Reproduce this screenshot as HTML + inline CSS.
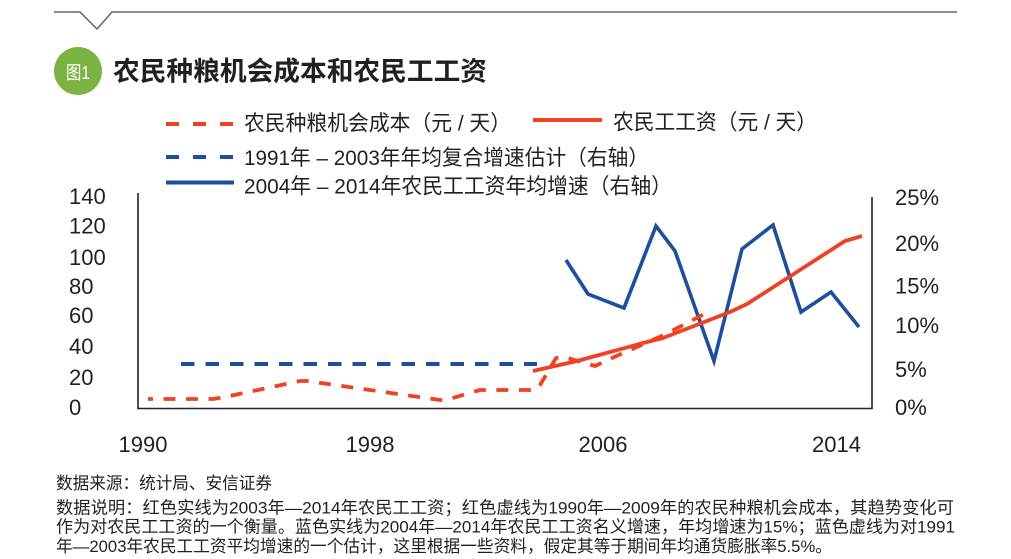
<!DOCTYPE html>
<html><head><meta charset="utf-8"><style>
html,body{margin:0;padding:0;background:#fff;}
svg{display:block;}
text{font-family:"Liberation Sans","Noto Sans CJK SC",sans-serif;fill:#231f20;}
</style></head><body>
<svg width="1011" height="559" viewBox="0 0 1011 559" xmlns="http://www.w3.org/2000/svg">
<!-- top line with notch -->
<polyline points="54,12 80,12 97,29 112,12 957,12" fill="none" stroke="#666" stroke-width="1.5"/>
<!-- title -->
<circle cx="78" cy="71" r="24" fill="#7cb342"/>
<text x="66" y="79" font-size="18" style="fill:#fff" textLength="24" lengthAdjust="spacingAndGlyphs">图1</text>
<text x="113" y="80.5" font-size="26.5" font-weight="700" textLength="374" lengthAdjust="spacingAndGlyphs">农民种粮机会成本和农民工工资</text>

<!-- legend -->
<line x1="166" y1="124" x2="234" y2="124" stroke="#ef4124" stroke-width="4" stroke-dasharray="13 14"/>
<text x="244" y="130.5" font-size="21.5" textLength="267" lengthAdjust="spacingAndGlyphs">农民种粮机会成本（元 / 天）</text>
<line x1="533" y1="120" x2="602" y2="120" stroke="#ef4124" stroke-width="4"/>
<text x="613" y="129.5" font-size="21.5" textLength="204" lengthAdjust="spacingAndGlyphs">农民工工资（元 / 天）</text>
<line x1="166" y1="157" x2="234" y2="157" stroke="#1c4f9c" stroke-width="4" stroke-dasharray="13 14"/>
<text x="244" y="165" font-size="21.5" textLength="405" lengthAdjust="spacingAndGlyphs">1991年 – 2003年年均复合增速估计（右轴）</text>
<line x1="166" y1="182.5" x2="234" y2="182.5" stroke="#1c4f9c" stroke-width="4"/>
<text x="244" y="193.5" font-size="21.5" textLength="428" lengthAdjust="spacingAndGlyphs">2004年 – 2014年农民工工资年均增速（右轴）</text>

<!-- axes -->
<polyline points="138,193 138,408.5 872,408.5 872,197" fill="none" stroke="#222" stroke-width="1.6"/>

<!-- left labels -->
<g font-size="22">
<text x="69" y="204">140</text>
<text x="69" y="233.5">120</text>
<text x="69" y="265">100</text>
<text x="69" y="294">80</text>
<text x="69" y="323">60</text>
<text x="69" y="354">40</text>
<text x="69" y="385">20</text>
<text x="69" y="415">0</text>
</g>
<!-- right labels -->
<g font-size="22">
<text x="895" y="205">25%</text>
<text x="895" y="251">20%</text>
<text x="895" y="293.5">15%</text>
<text x="895" y="333">10%</text>
<text x="895" y="377">5%</text>
<text x="895" y="415">0%</text>
</g>
<!-- x labels -->
<g font-size="22" text-anchor="middle">
<text x="143" y="452">1990</text>
<text x="370" y="452">1998</text>
<text x="603" y="452">2006</text>
<text x="836.5" y="452">2014</text>
</g>

<!-- series -->
<line x1="181" y1="364" x2="537" y2="364" stroke="#1c4f9c" stroke-width="4" stroke-dasharray="13.5 11"/>
<polyline points="566,260 588,294 624,308 656,226 675,251 714,361 742,249 773,225 801,312 831,292 859,327" fill="none" stroke="#1c4f9c" stroke-width="3.6" stroke-linejoin="miter"/>
<polyline points="148,399 213,399 225,397 300,381 307,381 440,400 446,400 480,390 535,390 540,385 556,358 564,357 595,366 612,358 666,334 710,311" fill="none" stroke="#ef4124" stroke-width="3.8" stroke-dasharray="12 10.5" stroke-dashoffset="7" stroke-linejoin="round"/>
<polyline points="533,371 577,361 643,343 663,338 730,312 747,304 845,241 862,236" fill="none" stroke="#ef4124" stroke-width="3.8" stroke-linejoin="round"/>

<!-- footer -->
<g font-size="17">
<text x="56" y="489" textLength="216" lengthAdjust="spacingAndGlyphs">数据来源：统计局、安信证券</text>
<text x="56" y="513.5" textLength="898" lengthAdjust="spacingAndGlyphs">数据说明：红色实线为2003年—2014年农民工工资；红色虚线为1990年—2009年的农民种粮机会成本，其趋势变化可</text>
<text x="56" y="532.5" textLength="899" lengthAdjust="spacingAndGlyphs">作为对农民工工资的一个衡量。蓝色实线为2004年—2014年农民工工资名义增速，年均增速为15%；蓝色虚线为对1991</text>
<text x="56" y="552" textLength="776" lengthAdjust="spacingAndGlyphs">年—2003年农民工工资平均增速的一个估计，这里根据一些资料，假定其等于期间年均通货膨胀率5.5%。</text>
</g>
</svg>
</body></html>
